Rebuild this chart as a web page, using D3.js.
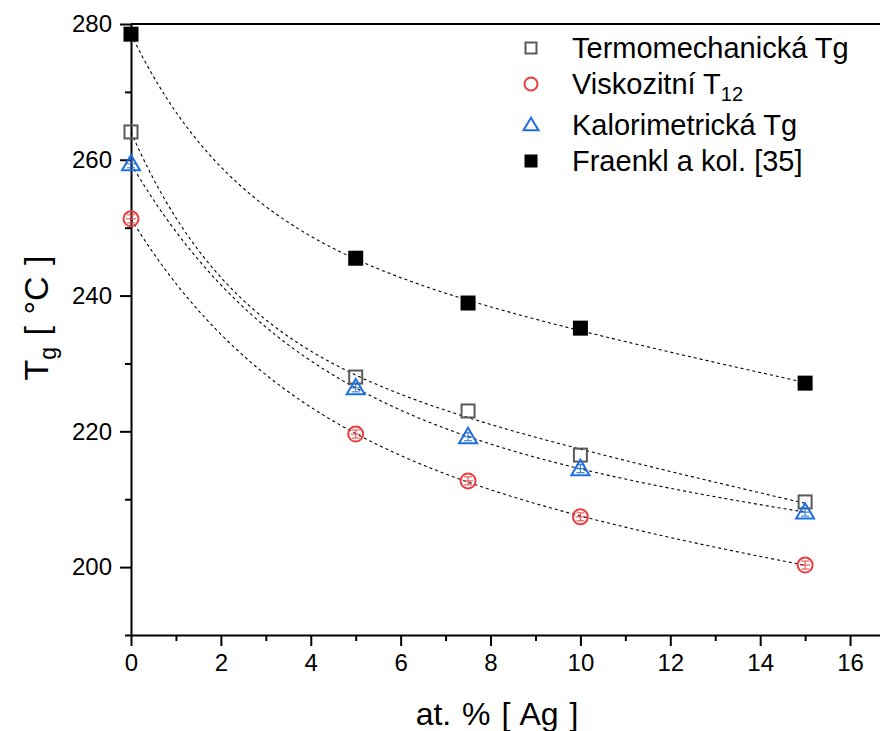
<!DOCTYPE html>
<html>
<head>
<meta charset="utf-8">
<script src="https://cdn.jsdelivr.net/npm/d3@7"></script>
<style>
  html, body { margin: 0; padding: 0; background: #fff; }
  svg { display: block; font-family: "Liberation Sans", Arial, sans-serif; }
</style>
</head>
<body>
<svg id="chart" width="880" height="731"></svg>
<script>
// Silver content (at. % Ag)
const agContent = [0, 5, 7.5, 10, 15];

// Glass transition temperatures [°C]
const termomechanicka = [264.1, 228.0, 223.0, 216.5, 209.6];
const viskozitni = [251.3, 219.6, 212.7, 207.4, 200.3];
const kalorimetricka = [259.4, 226.4, 219.2, 214.5, 208.1];
const fraenkl = [278.5, 245.5, 238.9, 235.2, 227.1];

const xTicks = [0, 2, 4, 6, 8, 10, 12, 14, 16];
const xMinorTicks = [1, 3, 5, 7, 9, 11, 13, 15];
const yTicks = [200, 220, 240, 260, 280];
const yMinorTicks = [190, 210, 230, 250, 270];

const seriesNames = ["Termomechanická Tg", "Viskozitní T", "Kalorimetrická Tg", "Fraenkl a kol. [35]"];

const series = [
  { name: seriesNames[0], values: termomechanicka, shape: "square", color: "#5a5a5a", fill: "none" },
  { name: seriesNames[1], values: viskozitni, shape: "circle", color: "#ee3b3b", fill: "none", sub: "12" },
  { name: seriesNames[2], values: kalorimetricka, shape: "triangle", color: "#1e6fe0", fill: "none" },
  { name: seriesNames[3], values: fraenkl, shape: "square", color: "#000000", fill: "#000000" }
];

const svg = d3.select("#chart");
const plot = { left: 131, top: 24, bottom: 635, right: 895 };

const x = d3.scaleLinear().domain([0, 17]).range([plot.left, plot.right]);
const y = d3.scaleLinear().domain([190, 280]).range([plot.bottom, plot.top]);

// Minor ticks
svg.append("g")
  .attr("transform", `translate(0,${plot.bottom})`)
  .call(d3.axisBottom(x).tickValues(xMinorTicks).tickSize(6).tickFormat("").tickSizeOuter(0))
  .call(g => g.select(".domain").remove())
  .call(g => g.selectAll("line").attr("stroke-width", 2));
svg.append("g")
  .attr("transform", `translate(${plot.left},0)`)
  .call(d3.axisLeft(y).tickValues(yMinorTicks).tickSize(6).tickFormat("").tickSizeOuter(0))
  .call(g => g.select(".domain").remove())
  .call(g => g.selectAll("line").attr("stroke-width", 2));

// Major axes
const xAxis = svg.append("g")
  .attr("transform", `translate(0,${plot.bottom})`)
  .call(d3.axisBottom(x).tickValues(xTicks).tickSize(11).tickSizeOuter(0).tickPadding(8).tickFormat(d3.format("d")));
const yAxis = svg.append("g")
  .attr("transform", `translate(${plot.left},0)`)
  .call(d3.axisLeft(y).tickValues(yTicks).tickSize(11).tickSizeOuter(0).tickPadding(8).tickFormat(d3.format("d")));

[xAxis, yAxis].forEach(g => {
  g.select(".domain").attr("stroke-width", 2);
  g.selectAll(".tick line").attr("stroke-width", 2);
  g.selectAll(".tick text").attr("font-size", 24).attr("fill", "#000")
    .attr("font-family", "'Liberation Sans', Arial, sans-serif");
});

// Top frame line
svg.append("line")
  .attr("x1", x(0)).attr("x2", x(17)).attr("y1", y(280)).attr("y2", y(280))
  .attr("stroke", "#000").attr("stroke-width", 2);

// Least-squares trend: T = T0 + A * exp(-c / tau) + B * c
function solve3(M, v) {
  const det = m => m[0][0] * (m[1][1] * m[2][2] - m[1][2] * m[2][1])
    - m[0][1] * (m[1][0] * m[2][2] - m[1][2] * m[2][0])
    + m[0][2] * (m[1][0] * m[2][1] - m[1][1] * m[2][0]);
  const D = det(M);
  if (Math.abs(D) < 1e-10) return null;
  return [0, 1, 2].map(k => det(M.map((row, r) => row.map((val, c) => (c === k ? v[r] : val)))) / D);
}

function fitTrend(xs, ys) {
  let best = null;
  for (let tau = 1.5; tau <= 8; tau += 0.01) {
    const basis = xs.map(c => [1, Math.exp(-c / tau), c]);
    const M = [0, 1, 2].map(i => [0, 1, 2].map(j => d3.sum(basis, b => b[i] * b[j])));
    const v = [0, 1, 2].map(i => d3.sum(basis.map((b, k) => b[i] * ys[k])));
    const p = solve3(M, v);
    if (!p) continue;
    const sse = d3.sum(basis.map((b, k) => (ys[k] - (p[0] * b[0] + p[1] * b[1] + p[2] * b[2])) ** 2));
    if (!best || sse < best.sse) best = { tau, p, sse };
  }
  return c => best.p[0] + best.p[1] * Math.exp(-c / best.tau) + best.p[2] * c;
}

const line = d3.line()
  .x(d => x(d[0]))
  .y(d => y(d[1]));

const xExtent = d3.extent(agContent);
series.forEach(s => {
  const f = fitTrend(agContent, s.values);
  const pts = d3.range(xExtent[0], xExtent[1] + 0.001, 0.05).map(c => [c, f(c)]);
  svg.append("path")
    .attr("d", line(pts))
    .attr("fill", "none")
    .attr("stroke", "#000")
    .attr("stroke-width", 1.1)
    .attr("stroke-dasharray", "3,3");
});

// Markers
function drawMarker(g, shape, color, fill, size, withBar) {
  if (shape === "square") {
    g.append("rect")
      .attr("x", -size / 2).attr("y", -size / 2)
      .attr("width", size).attr("height", size)
      .attr("fill", fill).attr("stroke", color).attr("stroke-width", 2);
  } else if (shape === "circle") {
    g.append("circle").attr("r", size / 2)
      .attr("fill", fill).attr("stroke", color).attr("stroke-width", 2);
  } else if (shape === "triangle") {
    const h = size * 0.9;
    g.append("path")
      .attr("d", `M0,${-h * 0.62} L${size / 2 + 1},${h * 0.45} L${-size / 2 - 1},${h * 0.45} Z`)
      .attr("fill", fill).attr("stroke", color).attr("stroke-width", 2)
      .attr("stroke-linejoin", "miter");
  }
  if (withBar) {
    g.append("path")
      .attr("d", "M0,-4 V4 M-4,-4 H4 M-4,4 H4 M-5,0 H5")
      .attr("stroke", color).attr("stroke-width", 1).attr("fill", "none");
  }
}

series.forEach(s => {
  const size = s.shape === "triangle" ? 16 : (s.shape === "circle" ? 15 : 13);
  s.values.forEach((v, i) => {
    const g = svg.append("g").attr("transform", `translate(${x(agContent[i])},${y(v)})`);
    drawMarker(g, s.shape, s.color, s.fill, size, s.fill === "none" && s.shape !== "square");
  });
});

// Legend
const legendRows = [48, 84, 125, 161];
series.forEach((s, i) => {
  const g = svg.append("g").attr("transform", `translate(531,${legendRows[i]})`);
  const size = s.shape === "triangle" ? 13 : (s.shape === "circle" ? 13 : 11);
  drawMarker(g, s.shape, s.color, s.fill, size, false);
  const t = g.append("text")
    .attr("x", 41).attr("y", 10)
    .attr("font-size", 29).attr("fill", "#000")
    .text(s.name);
  if (s.sub) {
    t.append("tspan").attr("font-size", 20).attr("dy", 7).text(s.sub);
  }
});

// Axis titles
svg.append("text")
  .attr("x", 497).attr("y", 725)
  .attr("text-anchor", "middle")
  .attr("font-size", 32).attr("word-spacing", 2).attr("fill", "#000")
  .text("at. % [ Ag ]");

const yt = svg.append("text")
  .attr("transform", "translate(48,318) rotate(-90)")
  .attr("text-anchor", "middle")
  .attr("font-size", 34).attr("word-spacing", 2).attr("fill", "#000");
yt.append("tspan").text("T");
yt.append("tspan").attr("font-size", 23).attr("dy", 8).text("g");
yt.append("tspan").attr("dy", -8).text(" [ °C ]");
</script>
</body>
</html>
